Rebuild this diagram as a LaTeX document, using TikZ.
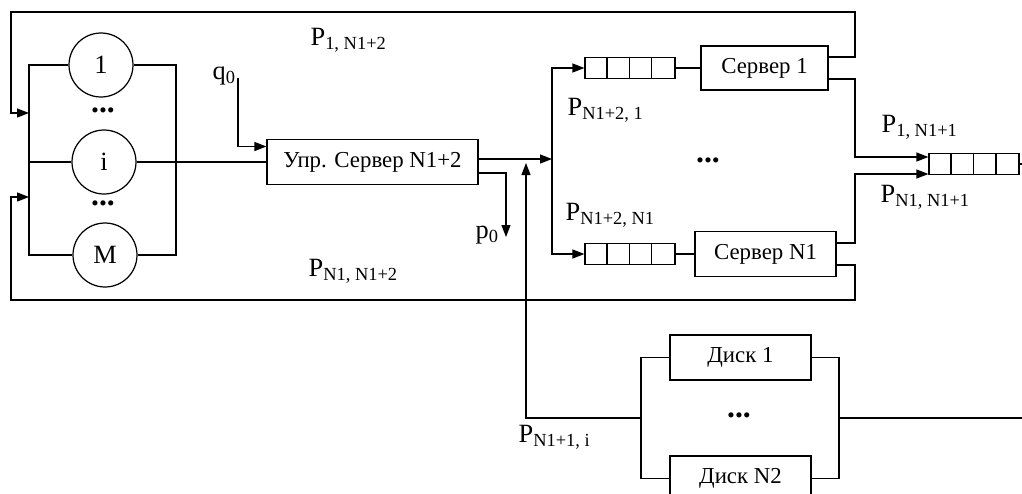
\documentclass[tikz,border=0pt]{standalone}
\usepackage{fontspec}
\setmainfont{Liberation Serif}
\usetikzlibrary{arrows.meta}
\tikzset{
  srv/.style={draw,minimum height=0.9cm,inner sep=0pt,font=\fontsize{13}{15}\selectfont},
  usr/.style={draw,circle,minimum size=1.28cm,inner sep=0pt,font=\fontsize{15}{17}\selectfont},
  queue/.style={draw,minimum width=1.8cm,minimum height=0.42cm,inner sep=0pt},
  lab/.style={anchor=west,inner sep=0pt,font=\fontsize{15}{18}\selectfont},
  dots/.style={inner sep=0pt,font=\fontsize{18}{20}\selectfont\bfseries},
}
\newcommand{\plab}[1]{P\textsubscript{#1}}
\begin{document}
\begin{tikzpicture}[x=0.02cm,y=-0.02cm,line width=0.7pt]
      \useasboundingbox (0,0) rectangle (1022,494);
      \node[usr] (c1) at (101,65) {1};
      \node[usr] (ci) at (104,162) {i};
      \node[usr] (cm) at (105,255) {M};
      \node[srv,minimum width=4.22cm] (ctrl) at (372.5,162) {Упр. Сервер N1+2};
      \node[queue] (q1) at (630,68) {};
      \node[queue] (qn) at (630,254) {};
      \node[srv,minimum width=2.54cm,minimum height=0.88cm] (s1) at (764.5,68) {Сервер 1};
      \node[srv,minimum width=2.82cm] (sn) at (765.5,254) {Сервер N1};
      \node[queue] (qo) at (974,164) {};
      \node[srv,minimum width=2.82cm] (d1) at (740.5,357.5) {Диск 1};
      \node[srv,minimum width=2.82cm] (d2) at (740.5,478.5) {Диск N2};
      \foreach \q in {q1,qn,qo}
        \foreach \k in {1,2,3}
          \draw ([xshift=\k*0.45cm]\q.south west) -- ([xshift=\k*0.45cm]\q.north west);
      \coordinate (lb) at (29,255);
      \coordinate (rb) at (176,255);
      \coordinate (in1) at (29,113);
      \coordinate (in2) at (29,197);
      \coordinate (tl) at (11,12);
      \coordinate (tr) at (855,12);
      \coordinate (bl) at (11,300);
      \coordinate (br) at (855,300);
      \coordinate (j1) at (855,157);
      \coordinate (j2) at (855,174);
      \coordinate (bm) at (552,159);
      \coordinate (p0e) at (506,237);
      \coordinate (q0s) at (238,78);
      \coordinate (dl) at (641,418);
      \coordinate (dr) at (839,418);
      \coordinate (dout) at (1022,418);
      \coordinate (up) at (526,163);
      \coordinate (qe) at (1022,164);
      \draw (c1.west) -| (lb) -- (cm.west);
      \draw (c1.east) -| (rb) -- (cm.east);
      \draw (ci.west -| lb) -- (ci.west);
      \draw (ci.east) -- (ctrl.west);
      \draw (q1) -- (s1);
      \draw (qn) -- (sn);
      \draw (qo.east) -- (qe);
      \draw (d1.west) -| (dl) |- (d2.west);
      \draw (d1.east) -| (dr) |- (d2.east);
      \draw (dr) -- (dout);
      \begin{scope}[-{Triangle[length=2.4mm,width=1.8mm]}]
        \draw ([yshift=0.22cm]s1.east) -| (tr) -- (tl) |- (in1);
        \draw ([yshift=-0.22cm]sn.east) -| (br) -- (bl) |- (in2);
        \draw ([yshift=-0.22cm]s1.east) -| (j1) -- (j1 -| qo.west);
        \draw ([yshift=0.22cm]sn.east) -| (j2) -- (j2 -| qo.west);
        \draw (q0s) |- ([yshift=0.31cm]ctrl.west);
        \draw (ctrl.east |- bm) -- (bm);
        \draw (bm) |- (q1.west);
        \draw (bm) |- (qn.west);
        \draw ([yshift=-0.22cm]ctrl.east) -| (p0e);
        \draw (dl) -| (up);
      \end{scope}
      \node[lab] (l1) at (310,40) {\plab{1, N1+2}};
      \node[lab] (l2) at (308,271) {\plab{N1, N1+2}};
      \node[lab] (l3) at (567,110) {\plab{N1+2, 1}};
      \node[lab] (l4) at (565,215) {\plab{N1+2, N1}};
      \node[lab] (l5) at (881,127) {\plab{1, N1+1}};
      \node[lab] (l6) at (880,197) {\plab{N1, N1+1}};
      \node[lab] (l7) at (518,437) {\plab{N1+1, i}};
      \node[lab] (q0) at (212,76) {q\textsubscript{0}};
      \node[lab] (p0) at (475,235) {p\textsubscript{0}};
      \node[dots] (dt1) at (103,110) {...};
      \node[dots] (dt2) at (103,203) {...};
      \node[dots] (dt3) at (708,160) {...};
      \node[dots] (dt4) at (739,415) {...};
    \end{tikzpicture}
\end{document}
